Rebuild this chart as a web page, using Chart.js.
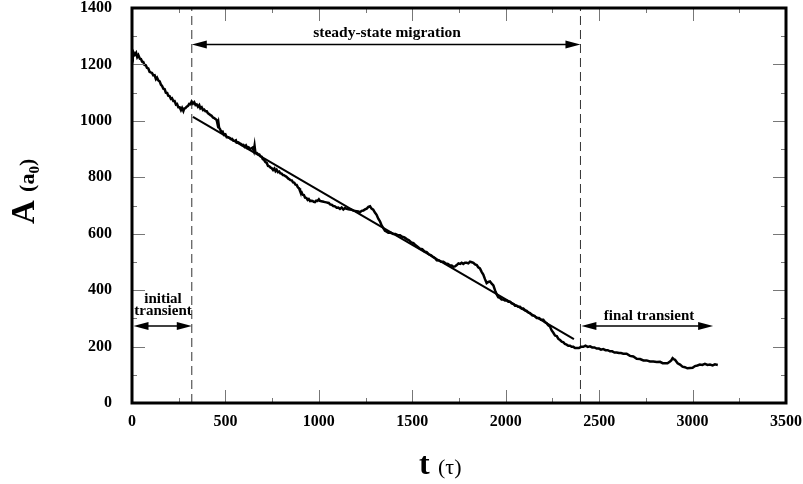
<!DOCTYPE html>
<html>
<head>
<meta charset="utf-8">
<script src="https://cdn.jsdelivr.net/npm/chart.js@4"></script>
<style>
  html, body { margin: 0; padding: 0; background: #fff; }
  #migration { display: block; }
</style>
</head>
<body>
<canvas id="migration" width="803" height="484"></canvas>
<script>
// A(t) trace: [t (tau), A (a0)]
const tracePoints = [
  [0,1240],[4,1231],[7,1244],[15,1234],[22,1241],[28,1226],[34,1233],[42,1220],[48,1219],[54,1210],
  [60,1209],[67,1198],[74,1197],[80,1188],[87,1186],[94,1174],[100,1172],[107,1170],[114,1161],[121,1162],
  [128,1148],[134,1153],[141,1143],[148,1140],[155,1128],[161,1124],[168,1114],[175,1112],[181,1100],[188,1099],
  [194,1089],[201,1088],[208,1078],[214,1080],[221,1070],[228,1070],[235,1058],[241,1060],[248,1048],[255,1048],
  [262,1038],[268,1046],[275,1035],[280,1044],[286,1045],[293,1050],[300,1053],[306,1060],[313,1059],[319,1068],
  [326,1061],[333,1066],[340,1056],[346,1058],[353,1050],[360,1056],[366,1044],[373,1048],[380,1038],[386,1040],
  [393,1034],[400,1034],[406,1027],[413,1024],[420,1020],[426,1018],[433,1012],[440,1010],[446,1007],[453,1003],
  [458,988],[462,996],[466,976],[471,971],[478,960],[485,962],[492,950],[500,952],[507,942],[515,942],
  [522,940],[530,935],[536,936],[542,930],[550,929],[556,931],[560,923],[568,924],[575,921],[582,919],
  [590,914],[596,915],[603,908],[610,913],[617,904],[624,906],[631,900],[638,902],[645,905],[652,893],
  [656,911],[660,889],[667,887],[674,882],[681,881],[688,874],[694,873],[700,864],[707,861],[714,854],
  [721,851],[728,840],[735,839],[742,834],[748,832],[755,826],[762,831],[768,822],[774,827],[781,818],
  [788,820],[794,814],[801,813],[808,808],[815,807],[821,804],[828,801],[835,796],[842,793],[848,790],
  [855,789],[862,782],[868,781],[875,774],[881,773],[888,764],[894,761],[899,752],[906,749],[913,738],
  [920,737],[926,728],[933,727],[940,720],[946,723],[953,716],[960,717],[966,716],[973,713],[979,712],
  [986,717],[993,716],[1000,722],[1006,716],[1013,715],[1020,714],[1026,713],[1033,712],[1040,711],[1047,710],
  [1053,709],[1060,704],[1068,703],[1077,698],[1086,697],[1095,692],[1104,693],[1113,688],[1122,693],[1131,686],
  [1140,691],[1149,688],[1158,687],[1166,686],[1175,685],[1184,682],[1193,681],[1202,680],[1211,679],[1220,676],
  [1229,681],[1238,682],[1247,686],[1256,689],[1265,695],[1274,697],[1282,689],[1291,685],[1300,675],[1309,667],
  [1318,653],[1327,644],[1336,629],[1345,620],[1354,610],[1363,607],[1372,603],[1385,603],[1398,599],[1410,599],
  [1422,595],[1434,595],[1446,589],[1458,587],[1470,581],[1482,577],[1494,569],[1506,567],[1518,559],[1530,553],
  [1541,547],[1553,545],[1565,537],[1577,535],[1589,527],[1601,523],[1613,517],[1622,513],[1631,506],[1643,505],
  [1654,501],[1666,501],[1678,495],[1690,493],[1702,487],[1711,487],[1720,483],[1729,484],[1738,489],[1747,495],
  [1756,493],[1764,497],[1773,493],[1782,497],[1791,497],[1800,495],[1809,501],[1818,499],[1827,497],[1836,491],
  [1845,489],[1853,481],[1862,477],[1871,465],[1880,455],[1889,439],[1898,425],[1907,429],[1916,431],[1925,423],
  [1934,417],[1943,399],[1952,385],[1960,375],[1969,373],[1978,367],[1987,367],[1996,363],[2005,363],[2014,359],
  [2023,359],[2032,353],[2041,351],[2050,345],[2059,345],[2067,341],[2076,341],[2085,335],[2094,335],[2103,329],
  [2112,327],[2121,321],[2130,319],[2142,311],[2154,309],[2166,301],[2178,301],[2190,295],[2201,295],[2210,287],
  [2219,283],[2228,275],[2237,271],[2246,257],[2255,249],[2264,239],[2273,237],[2282,227],[2291,223],[2300,217],
  [2309,215],[2317,209],[2326,207],[2335,203],[2344,203],[2353,199],[2362,199],[2371,195],[2380,195],[2392,195],
  [2403,199],[2415,199],[2427,203],[2439,199],[2451,201],[2463,197],[2475,197],[2487,193],[2499,193],[2510,189],
  [2522,191],[2534,187],[2546,187],[2558,183],[2570,183],[2582,179],[2594,179],[2606,177],[2617,177],[2629,175],
  [2647,175],[2665,167],[2683,165],[2701,157],[2719,156],[2737,151],[2754,151],[2772,147],[2790,147],[2808,145],
  [2826,146],[2840,141],[2853,141],[2866,141],[2879,147],[2886,151],[2893,159],[2900,155],[2906,153],[2920,141],
  [2933,136],[2946,129],[2959,127],[2972,123],[2986,124],[3000,125],[3013,131],[3026,133],[3039,136],[3052,135],
  [3066,139],[3080,135],[3093,136],[3107,133],[3120,137],[3135,135]
];

// straight fit over the steady-state part
const fitT = [326, 2365];
const fitA = [1014, 226];

// regime boundaries (dashed lines)
const boundaryT = [320, 2400];

// axis ticks
const xMajorTicks = [0, 500, 1000, 1500, 2000, 2500, 3000, 3500];
const xMinorTicks = [250, 750, 1250, 1750, 2250, 2750, 3250];
const yMajorTicks = [0, 200, 400, 600, 800, 1000, 1200, 1400];
const yMinorTicks = [100, 300, 500, 700, 900, 1100, 1300];

// annotation arrows: [from t, to t, at A]
const arrowRows = [
  [320, 2400, 1271],  // steady-state migration
  [8, 320, 273],      // initial transient
  [2405, 3110, 273]   // final transient
];
const labelTexts = ['steady-state migration', 'initial', 'transient', 'final transient'];
const labelPos = [[1365, 1297], [166, 354], [166, 312], [2767, 294]];

const serif = '"Liberation Serif", "Times New Roman", serif';

// frame, inward ticks, arrows and labels
const decorPlugin = {
  id: 'decor',
  afterDatasetsDraw(chart) {
    const { ctx, chartArea: a, scales: { x, y } } = chart;
    ctx.save();

    // inward ticks on all four sides
    ctx.strokeStyle = '#777';
    ctx.lineWidth = 1;
    const tickX = (vals, len) => vals.forEach(v => {
      const px = Math.round(x.getPixelForValue(v)) + 0.5;
      ctx.beginPath();
      ctx.moveTo(px, a.bottom); ctx.lineTo(px, a.bottom - len);
      ctx.moveTo(px, a.top); ctx.lineTo(px, a.top + len);
      ctx.stroke();
    });
    const tickY = (vals, len) => vals.forEach(v => {
      const py = Math.round(y.getPixelForValue(v)) + 0.5;
      ctx.beginPath();
      ctx.moveTo(a.left, py); ctx.lineTo(a.left + len, py);
      ctx.moveTo(a.right, py); ctx.lineTo(a.right - len, py);
      ctx.stroke();
    });
    tickX(xMajorTicks, 13); tickX(xMinorTicks, 5);
    tickY(yMajorTicks, 13); tickY(yMinorTicks, 5);

    // frame
    ctx.strokeStyle = '#000';
    ctx.lineWidth = 3;
    ctx.strokeRect(a.left, a.top, a.right - a.left, a.bottom - a.top);

    // double arrows
    ctx.fillStyle = '#000';
    ctx.lineWidth = 1.5;
    arrowRows.forEach(([t1, t2, v]) => {
      const x1 = x.getPixelForValue(t1), x2 = x.getPixelForValue(t2);
      const py = y.getPixelForValue(v);
      ctx.beginPath();
      ctx.moveTo(x1 + 10, py); ctx.lineTo(x2 - 10, py);
      ctx.stroke();
      ctx.beginPath();
      ctx.moveTo(x1, py); ctx.lineTo(x1 + 15, py - 4); ctx.lineTo(x1 + 15, py + 4); ctx.closePath();
      ctx.moveTo(x2, py); ctx.lineTo(x2 - 15, py - 4); ctx.lineTo(x2 - 15, py + 4); ctx.closePath();
      ctx.fill();
    });

    // annotation texts
    ctx.textAlign = 'center';
    ctx.textBaseline = 'alphabetic';
    labelTexts.forEach((txt, i) => {
      ctx.font = 'bold ' + (i === 0 ? 15.5 : 15) + 'px ' + serif;
      ctx.fillText(txt, x.getPixelForValue(labelPos[i][0]), y.getPixelForValue(labelPos[i][1]));
    });

    ctx.restore();
  },
  afterDraw(chart) {
    const { ctx } = chart;
    ctx.save();
    ctx.fillStyle = '#000';
    ctx.textBaseline = 'alphabetic';
    ctx.textAlign = 'left';

    // y title: A (a0), rotated
    ctx.translate(34, 188);
    ctx.rotate(-Math.PI / 2);
    let cx = -36;
    ctx.font = 'bold 33px ' + serif;
    ctx.fillText('A', cx, 0); cx += ctx.measureText('A ').width;
    ctx.font = 'bold 22px ' + serif;
    ctx.fillText('(a', cx, 0); cx += ctx.measureText('(a').width;
    ctx.font = 'bold 15px ' + serif;
    ctx.fillText('0', cx, 5); cx += ctx.measureText('0').width;
    ctx.font = 'bold 22px ' + serif;
    ctx.fillText(')', cx, 0);
    ctx.setTransform(1, 0, 0, 1, 0, 0);

    // x title: t (tau)
    ctx.font = 'bold 32px ' + serif;
    ctx.fillText('t', 419, 474);
    ctx.font = '22px ' + serif;
    ctx.fillText('(\u03c4)', 438, 474);
    ctx.restore();
  }
};

const ctx = document.getElementById('migration').getContext('2d');
new Chart(ctx, {
  type: 'line',
  data: {
    datasets: [
      {
        data: tracePoints.map(p => ({ x: p[0], y: p[1] })),
        borderColor: '#000',
        borderWidth: 2.5,
        pointRadius: 0,
        tension: 0
      },
      {
        data: fitT.map((t, i) => ({ x: t, y: fitA[i] })),
        borderColor: '#000',
        borderWidth: 2,
        pointRadius: 0
      },
      ...boundaryT.map(t => ({
        data: [{ x: t, y: 0 }, { x: t, y: 1400 }],
        borderColor: '#333',
        borderWidth: 1,
        borderDash: [9, 5],
        pointRadius: 0
      }))
    ]
  },
  options: {
    responsive: false,
    animation: false,
    layout: { padding: { top: 8, right: 17, left: 0, bottom: 0 } },
    plugins: {
      legend: { display: false },
      tooltip: { enabled: false }
    },
    scales: {
      x: {
        type: 'linear',
        min: 0,
        max: 3500,
        ticks: {
          stepSize: 500,
          color: '#000',
          padding: 9,
          maxRotation: 0,
          callback: v => String(v),
          font: { family: serif, size: 16, weight: 'bold' }
        },
        grid: { display: false, drawTicks: false },
        border: { display: false },
        afterFit(scale) {
          scale.height = 81;
          scale.paddingLeft = 0;
          scale.paddingRight = 0;
        }
      },
      y: {
        min: 0,
        max: 1400,
        ticks: {
          stepSize: 200,
          color: '#000',
          padding: 20,
          callback: v => String(v),
          font: { family: serif, size: 16, weight: 'bold' }
        },
        grid: { display: false, drawTicks: false },
        border: { display: false },
        afterFit(scale) {
          scale.width = 132;
          scale.paddingTop = 0;
          scale.paddingBottom = 0;
        }
      }
    }
  },
  plugins: [decorPlugin]
});
</script>
</body>
</html>
